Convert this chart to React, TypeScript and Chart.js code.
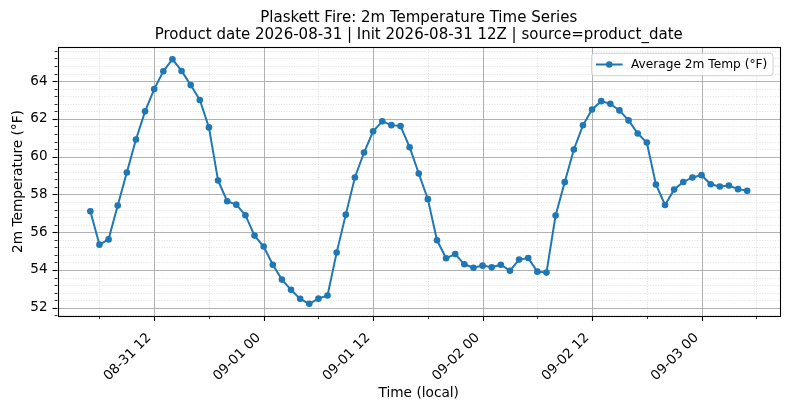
import React, { useEffect, useRef } from 'react';
import { Chart, registerables } from 'chart.js';

Chart.register(...registerables);

const TITLE_LINES = [
  'Plaskett Fire: 2m Temperature Time Series',
  'Product date 2026-08-31 | Init 2026-08-31 12Z | source=product_date',
];
const SERIES_LABEL = 'Average 2m Temp (°F)';
const X_TITLE = 'Time (local)';
const Y_TITLE = '2m Temperature (°F)';

// hours are counted from 2026-08-31 00:00 local
const BASE_UTC = Date.UTC(2026, 7, 31, 0);
const START_HOUR = 5; // first sample 08-31 05:00, hourly

const TEMPS = [
  57.11, 55.34, 55.62, 57.41, 59.16, 60.91, 62.40, 63.58, 64.52, 65.16,
  64.54, 63.79, 63.00, 61.55, 58.74, 57.64, 57.46, 56.90, 55.82, 55.24,
  54.28, 53.49, 52.95, 52.47, 52.21, 52.48, 52.65, 54.92, 56.93, 58.90,
  60.22, 61.34, 61.87, 61.67, 61.62, 60.50, 59.11, 57.75, 55.57, 54.62,
  54.84, 54.30, 54.12, 54.23, 54.14, 54.28, 53.96, 54.55, 54.63, 53.91,
  53.86, 56.88, 58.65, 60.38, 61.66, 62.50, 62.94, 62.80, 62.45, 61.92,
  61.23, 60.75, 58.53, 57.44, 58.26, 58.66, 58.90, 59.02, 58.54, 58.42,
  58.47, 58.28, 58.19,
];

const X_TICK_HOURS = [12, 24, 36, 48, 60, 72];
const X_MINOR_HOURS = [6, 18, 30, 42, 54, 66, 78];
const Y_TICKS = [52, 54, 56, 58, 60, 62, 64];
const Y_MINOR_STEP = 0.4;

const COLOR = '#1f77b4';
const FONT = '"DejaVu Sans", sans-serif';

function fmtHour(h: number): string {
  const d = new Date(BASE_UTC + h * 3600 * 1000);
  const p = (n: number) => String(n).padStart(2, '0');
  return `${p(d.getUTCMonth() + 1)}-${p(d.getUTCDate())} ${p(d.getUTCHours())}`;
}

const decor = {
  id: 'decor',
  beforeDatasetsDraw(chart: any) {
    const { ctx, chartArea: a, scales } = chart;
    const x = scales.x;
    const y = scales.y;
    ctx.save();
    ctx.beginPath();
    ctx.rect(a.left, a.top, a.right - a.left, a.bottom - a.top);
    ctx.clip();
    // minor grid
    ctx.setLineDash([1, 1.6]);
    ctx.lineWidth = 0.6;
    ctx.strokeStyle = 'rgba(160,160,160,0.55)';
    for (const h of X_MINOR_HOURS) {
      const px = Math.round(x.getPixelForValue(h)) + 0.5;
      ctx.beginPath(); ctx.moveTo(px, a.top); ctx.lineTo(px, a.bottom); ctx.stroke();
    }
    const k0 = Math.ceil(y.min / Y_MINOR_STEP);
    const k1 = Math.floor(y.max / Y_MINOR_STEP);
    for (let k = k0; k <= k1; k++) {
      const v = k * Y_MINOR_STEP;
      if (Math.abs(v / 2 - Math.round(v / 2)) < 1e-6) continue;
      const py = Math.round(y.getPixelForValue(v)) + 0.5;
      ctx.beginPath(); ctx.moveTo(a.left, py); ctx.lineTo(a.right, py); ctx.stroke();
    }
    // major grid
    ctx.setLineDash([]);
    ctx.lineWidth = 0.9;
    ctx.strokeStyle = '#a8a8a8';
    for (const h of X_TICK_HOURS) {
      const px = Math.round(x.getPixelForValue(h)) + 0.5;
      ctx.beginPath(); ctx.moveTo(px, a.top); ctx.lineTo(px, a.bottom); ctx.stroke();
    }
    for (const v of Y_TICKS) {
      const py = Math.round(y.getPixelForValue(v)) + 0.5;
      ctx.beginPath(); ctx.moveTo(a.left, py); ctx.lineTo(a.right, py); ctx.stroke();
    }
    ctx.restore();
  },
  afterDraw(chart: any) {
    const { ctx, chartArea: a, scales } = chart;
    const x = scales.x;
    const y = scales.y;
    ctx.save();
    // frame
    ctx.strokeStyle = '#000';
    ctx.lineWidth = 1.1;
    ctx.strokeRect(Math.round(a.left) + 0.5, Math.round(a.top) + 0.5,
      Math.round(a.right) - Math.round(a.left), Math.round(a.bottom) - Math.round(a.top));
    // ticks
    ctx.lineWidth = 1.1;
    for (const h of X_TICK_HOURS) {
      const px = Math.round(x.getPixelForValue(h)) + 0.5;
      ctx.beginPath(); ctx.moveTo(px, a.bottom); ctx.lineTo(px, a.bottom + 5); ctx.stroke();
    }
    for (const v of Y_TICKS) {
      const py = Math.round(y.getPixelForValue(v)) + 0.5;
      ctx.beginPath(); ctx.moveTo(a.left, py); ctx.lineTo(a.left - 5, py); ctx.stroke();
    }
    ctx.lineWidth = 0.8;
    for (const h of X_MINOR_HOURS) {
      const px = Math.round(x.getPixelForValue(h)) + 0.5;
      if (px < a.left || px > a.right) continue;
      ctx.beginPath(); ctx.moveTo(px, a.bottom); ctx.lineTo(px, a.bottom + 3); ctx.stroke();
    }
    const k0 = Math.ceil(y.min / Y_MINOR_STEP);
    const k1 = Math.floor(y.max / Y_MINOR_STEP);
    for (let k = k0; k <= k1; k++) {
      const v = k * Y_MINOR_STEP;
      if (Math.abs(v / 2 - Math.round(v / 2)) < 1e-6) continue;
      const py = Math.round(y.getPixelForValue(v)) + 0.5;
      ctx.beginPath(); ctx.moveTo(a.left, py); ctx.lineTo(a.left - 3, py); ctx.stroke();
    }
    // title
    const cx = (a.left + a.right) / 2;
    ctx.fillStyle = '#000';
    ctx.font = `15px ${FONT}`;
    ctx.textAlign = 'center';
    ctx.textBaseline = 'alphabetic';
    ctx.fillText(TITLE_LINES[0], cx, a.top - 25.3);
    ctx.fillText(TITLE_LINES[1], cx, a.top - 7.7);
    // axis titles
    ctx.font = `13.7px ${FONT}`;
    ctx.fillText(X_TITLE, cx, 396.5);
    ctx.save();
    ctx.translate(21.7, (a.top + a.bottom) / 2);
    ctx.rotate(-Math.PI / 2);
    ctx.fillText(Y_TITLE, 0, 0);
    ctx.restore();
    // legend
    ctx.font = `12.2px ${FONT}`;
    const tw = ctx.measureText(SERIES_LABEL).width;
    const bw = 4.3 + 26.7 + 8.3 + tw + 5.7;
    const bh = 22.4;
    const bx = a.right - 7 - bw;
    const by = a.top + 6.3;
    const r = 3;
    ctx.beginPath();
    ctx.moveTo(bx + r, by);
    ctx.lineTo(bx + bw - r, by);
    ctx.quadraticCurveTo(bx + bw, by, bx + bw, by + r);
    ctx.lineTo(bx + bw, by + bh - r);
    ctx.quadraticCurveTo(bx + bw, by + bh, bx + bw - r, by + bh);
    ctx.lineTo(bx + r, by + bh);
    ctx.quadraticCurveTo(bx, by + bh, bx, by + bh - r);
    ctx.lineTo(bx, by + r);
    ctx.quadraticCurveTo(bx, by, bx + r, by);
    ctx.closePath();
    ctx.fillStyle = 'rgba(255,255,255,0.8)';
    ctx.fill();
    ctx.strokeStyle = '#d0d0d0';
    ctx.lineWidth = 1;
    ctx.stroke();
    const ly = by + bh / 2;
    ctx.strokeStyle = COLOR;
    ctx.lineWidth = 2;
    ctx.beginPath(); ctx.moveTo(bx + 4.3, ly); ctx.lineTo(bx + 31, ly); ctx.stroke();
    ctx.fillStyle = COLOR;
    ctx.beginPath(); ctx.arc(bx + 4.3 + 13.35, ly, 3.3, 0, Math.PI * 2); ctx.fill();
    ctx.fillStyle = '#000';
    ctx.textAlign = 'left';
    ctx.textBaseline = 'middle';
    ctx.fillText(SERIES_LABEL, bx + 39.3, ly + 0.5);
    ctx.restore();
  },
};

export default function App() {
  const ref = useRef<HTMLCanvasElement | null>(null);
  useEffect(() => {
    document.body.style.margin = '0';
    const canvas = ref.current;
    if (!canvas) return;
    const data = TEMPS.map((t, i) => ({ x: START_HOUR + i, y: t }));
    const xs = data.map((d) => d.x);
    const xMin = Math.min(...xs);
    const xMax = Math.max(...xs);
    const yMin = Math.min(...TEMPS);
    const yMax = Math.max(...TEMPS);
    const xm = (xMax - xMin) * 0.05;
    const ym = (yMax - yMin) * 0.05;
    const chart = new Chart(canvas, {
      type: 'line',
      data: {
        datasets: [
          {
            label: SERIES_LABEL,
            data,
            borderColor: COLOR,
            backgroundColor: COLOR,
            borderWidth: 2,
            pointRadius: 3.3,
            pointBorderWidth: 0,
            pointBackgroundColor: COLOR,
            tension: 0,
            fill: false,
          },
        ],
      },
      options: {
        animation: false,
        responsive: false,
        devicePixelRatio: 1,
        layout: { padding: { left: 0, right: 10, top: 47, bottom: 0 } },
        plugins: {
          legend: { display: false },
          title: { display: false },
          tooltip: { enabled: false },
        },
        scales: {
          x: {
            type: 'linear',
            min: xMin - xm,
            max: xMax + xm,
            afterBuildTicks: (s: any) => {
              s.ticks = X_TICK_HOURS.map((v) => ({ value: v }));
            },
            afterFit: (s: any) => {
              s.height = 93;
            },
            grid: { display: false, drawTicks: false },
            border: { display: false },
            ticks: {
              autoSkip: false,
              maxRotation: 45,
              minRotation: 45,
              padding: 14,
              labelOffset: -5,
              color: '#000',
              font: { family: FONT, size: 13.5 },
              callback: (v: any) => fmtHour(Number(v)),
            },
          },
          y: {
            type: 'linear',
            min: yMin - ym,
            max: yMax + ym,
            afterBuildTicks: (s: any) => {
              s.ticks = Y_TICKS.map((v) => ({ value: v }));
            },
            afterFit: (s: any) => {
              s.width = 57.5;
            },
            grid: { display: false, drawTicks: false },
            border: { display: false },
            ticks: {
              padding: 10,
              color: '#000',
              font: { family: FONT, size: 13.5 },
              callback: (v: any) => String(v),
            },
          },
        },
      },
      plugins: [decor],
    });
    return () => chart.destroy();
  }, []);
  return (
    <div style={{ position: 'fixed', left: 0, top: 0, width: 790, height: 409, background: '#fff' }}>
      <canvas ref={ref} width={790} height={409} style={{ width: 790, height: 409 }} />
    </div>
  );
}
